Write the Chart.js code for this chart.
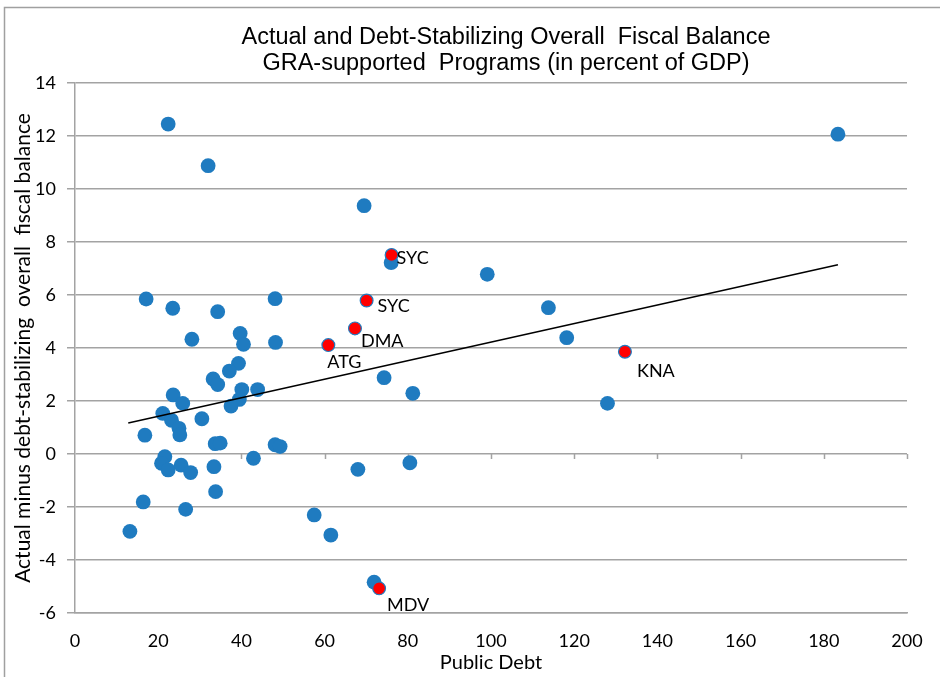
<!DOCTYPE html>
<html>
<head>
<meta charset="utf-8">
<script src="https://cdn.jsdelivr.net/npm/chart.js@4"></script>
<style>
  html, body { margin: 0; padding: 0; background: #fff; }
  #wrap { width: 940px; height: 677px; }
</style>
</head>
<body>
<div id="wrap"><canvas id="c" width="940" height="677"></canvas></div>
<script>
// ---- Data ----
const titleLines = ['Actual and Debt-Stabilizing Overall  Fiscal Balance', 'GRA-supported  Programs (in percent of GDP)'];
const xAxisTitle = 'Public Debt';
const yAxisTitle = 'Actual minus debt-stabilizing  overall  fiscal balance';

// All programs (blue markers): public debt and balance gap
const allDebt = [22.4, 32.0, 183.4, 69.5, 76.0, 99.1, 17.1, 23.5, 34.3, 48.1,
  113.8, 28.1, 39.7, 40.5, 48.2, 118.2, 39.3, 37.1, 33.2, 34.3,
  40.1, 43.9, 74.3, 23.6, 25.9, 39.5, 37.5, 81.2, 128.0, 21.1,
  23.2, 30.5, 25.0, 25.2, 16.8, 33.7, 34.9, 48.1, 49.3, 21.6,
  42.9, 20.8, 22.4, 25.5, 27.8, 33.4, 68.0, 80.5, 33.8, 16.4,
  26.6, 13.2, 57.5, 61.5, 71.9];
const allBalance = [12.45, 10.88, 12.07, 9.37, 7.22, 6.78, 5.85, 5.50, 5.37, 5.86,
  5.52, 4.33, 4.55, 4.14, 4.21, 4.39, 3.42, 3.13, 2.83, 2.62,
  2.43, 2.43, 2.88, 2.23, 1.91, 2.06, 1.81, 2.29, 1.91, 1.53,
  1.27, 1.33, 0.97, 0.72, 0.71, 0.39, 0.41, 0.35, 0.28, -0.10,
  -0.16, -0.35, -0.60, -0.42, -0.70, -0.48, -0.58, -0.33, -1.42, -1.81,
  -2.09, -2.92, -2.30, -3.06, -4.84];

// Highlighted countries (red markers)
const hlNames = ['SYC', 'SYC', 'DMA', 'ATG', 'KNA', 'MDV'];
const hlDebt = [76.1, 70.1, 67.3, 60.9, 132.2, 73.1];
const hlBalance = [7.51, 5.79, 4.74, 4.11, 3.86, -5.07];

// Linear trend line end points
const trendDebt = [12.8, 183.4];
const trendBalance = [1.17, 7.14];

// Axis ticks
const xTicks = [0, 20, 40, 60, 80, 100, 120, 140, 160, 180, 200];
const yTicks = [-6, -4, -2, 0, 2, 4, 6, 8, 10, 12, 14];

// ---- Styling ----
const BLUE = '#1f7bc0';
const RED = '#ff0000';
const GRID = '#a3a3a3';
const FONT = 'Lato, "Open Sans", sans-serif';
const TITLE_FONT = '23.5px "Liberation Sans", Arial, sans-serif';
const TITLE_POS = { x: 506, y: [38, 64] };
// label offsets (px) relative to each red marker: [dx, dy]
const labelOffsets = [[5, 3], [11, 6], [6, 13], [-1, 17], [12, 19], [8, 17]];

const toPts = (xs, ys) => xs.map((x, i) => ({ x: x, y: ys[i] }));

const framePlugin = {
  id: 'frame',
  beforeDraw(chart) {
    const ctx = chart.ctx;
    ctx.save();
    ctx.strokeStyle = '#a0a0a0';
    ctx.lineWidth = 1.5;
    ctx.beginPath();
    ctx.moveTo(4.5, 677);
    ctx.lineTo(4.5, 7.5);
    ctx.lineTo(940, 7.5);
    ctx.stroke();
    ctx.restore();
  },
  afterDraw(chart) {
    const ctx = chart.ctx;
    ctx.save();
    ctx.fillStyle = '#000';
    ctx.font = TITLE_FONT;
    ctx.textAlign = 'center';
    ctx.textBaseline = 'middle';
    titleLines.forEach((t, i) => ctx.fillText(t, TITLE_POS.x, TITLE_POS.y[i]));
    ctx.restore();
  }
};

const zeroTicksPlugin = {
  id: 'zeroTicks',
  beforeDatasetsDraw(chart) {
    const ctx = chart.ctx;
    const xs = chart.scales.x, ys = chart.scales.y;
    const y0 = ys.getPixelForValue(0);
    ctx.save();
    ctx.strokeStyle = GRID;
    ctx.lineWidth = 1.5;
    xTicks.forEach(v => {
      if (v === 0) return;
      const px = Math.round(xs.getPixelForValue(v)) + 0.5;
      ctx.beginPath();
      ctx.moveTo(px, y0);
      ctx.lineTo(px, y0 + 5);
      ctx.stroke();
    });
    ctx.restore();
  }
};

const labelPlugin = {
  id: 'pointLabels',
  afterDatasetsDraw(chart) {
    const ctx = chart.ctx;
    const meta = chart.getDatasetMeta(1);
    ctx.save();
    ctx.fillStyle = '#000';
    ctx.font = '18px ' + FONT;
    ctx.textAlign = 'left';
    ctx.textBaseline = 'middle';
    meta.data.forEach((el, i) => {
      const off = labelOffsets[i];
      ctx.fillText(hlNames[i], el.x + off[0], el.y + off[1]);
    });
    ctx.restore();
  }
};

new Chart(document.getElementById('c'), {
  type: 'scatter',
  data: {
    datasets: [
      {
        label: 'Programs',
        data: toPts(allDebt, allBalance),
        backgroundColor: BLUE,
        borderColor: BLUE,
        borderWidth: 0,
        pointRadius: 7.4,
        pointHoverRadius: 7.4,
        order: 3
      },
      {
        label: 'Highlighted',
        data: toPts(hlDebt, hlBalance),
        backgroundColor: RED,
        borderColor: BLUE,
        borderWidth: 1.2,
        pointRadius: 6.4,
        pointHoverRadius: 6.4,
        order: 2
      },
      {
        label: 'Trend',
        type: 'line',
        data: toPts(trendDebt, trendBalance),
        borderColor: '#000',
        borderWidth: 1.5,
        pointRadius: 0,
        fill: false,
        order: 1
      }
    ]
  },
  options: {
    responsive: false,
    animation: false,
    events: [],
    layout: { padding: { left: 0, right: 33, top: 83, bottom: 0 } },
    plugins: {
      legend: { display: false },
      tooltip: { enabled: false },
      title: { display: false }
    },
    scales: {
      x: {
        type: 'linear',
        min: 0,
        max: 200,
        afterBuildTicks: s => { s.ticks = xTicks.map(v => ({ value: v })); },
        afterFit: s => { s.height = 64; s.paddingLeft = 0; s.paddingRight = 0; },
        grid: { display: false, drawTicks: false },
        border: { display: true, color: GRID, width: 1.5 },
        ticks: { color: '#000', font: { family: FONT, size: 18 }, padding: 17, maxRotation: 0 },
        title: {
          display: true,
          text: xAxisTitle,
          color: '#000',
          font: { family: FONT, size: 20 },
          padding: { top: 0, bottom: 2 }
        }
      },
      y: {
        type: 'linear',
        min: -6,
        max: 14,
        afterBuildTicks: s => { s.ticks = yTicks.map(v => ({ value: v })); },
        afterFit: s => { s.width = 75; s.paddingTop = 0; s.paddingBottom = 0; },
        grid: { color: GRID, lineWidth: 1.5, drawTicks: true, tickLength: 8 },
        border: { display: true, color: GRID, width: 1.5 },
        ticks: { color: '#000', font: { family: FONT, size: 18 }, padding: 11 },
        title: {
          display: true,
          text: yAxisTitle,
          color: '#000',
          font: { family: FONT, size: 21 },
          padding: { top: 11, bottom: 0 }
        }
      }
    }
  },
  plugins: [framePlugin, zeroTicksPlugin, labelPlugin]
});
</script>
</body>
</html>
